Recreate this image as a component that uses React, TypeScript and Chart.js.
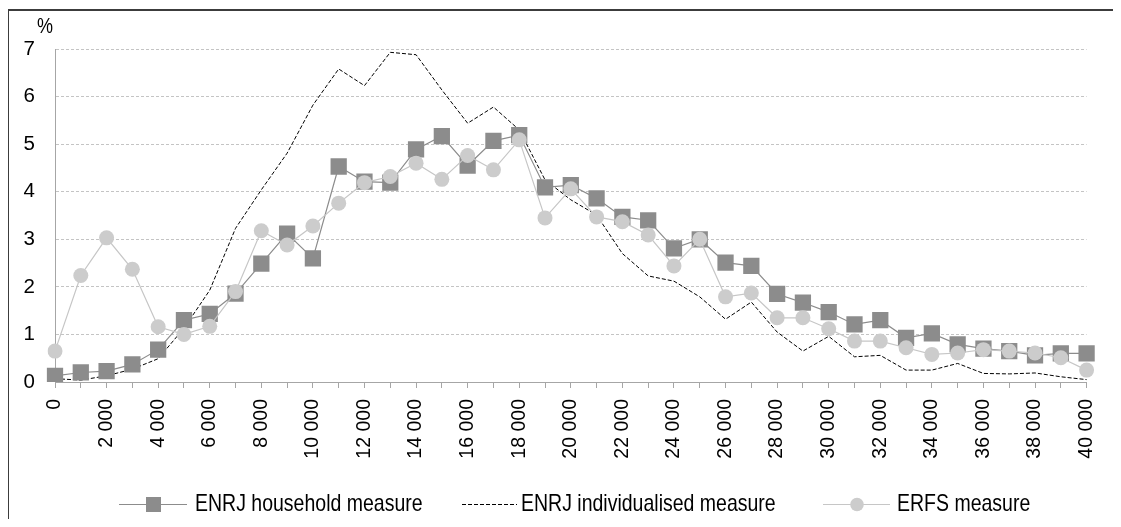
import React, { useEffect, useRef } from 'react';
import { Chart, registerables } from 'chart.js';

Chart.register(...registerables);

const incomeLevels = [
  0, 1000, 2000, 3000, 4000, 5000, 6000, 7000, 8000, 9000,
  10000, 11000, 12000, 13000, 14000, 15000, 16000, 17000, 18000, 19000,
  20000, 21000, 22000, 23000, 24000, 25000, 26000, 27000, 28000, 29000,
  30000, 31000, 32000, 33000, 34000, 35000, 36000, 37000, 38000, 39000, 40000,
];

const tickLabels = [
  '0', '', '2 000', '', '4 000', '', '6 000', '', '8 000', '',
  '10 000', '', '12 000', '', '14 000', '', '16 000', '', '18 000', '',
  '20 000', '', '22 000', '', '24 000', '', '26 000', '', '28 000', '',
  '30 000', '', '32 000', '', '34 000', '', '36 000', '', '38 000', '', '40 000',
];

const householdMeasure = [
  0.13, 0.2, 0.23, 0.37, 0.68, 1.3, 1.43, 1.86, 2.49, 3.12,
  2.6, 4.53, 4.21, 4.19, 4.89, 5.17, 4.55, 5.07, 5.19, 4.09,
  4.14, 3.86, 3.47, 3.4, 2.81, 3.0, 2.51, 2.44, 1.85, 1.67,
  1.47, 1.21, 1.3, 0.93, 1.02, 0.79, 0.7, 0.65, 0.56, 0.6, 0.6,
];

const individualisedMeasure = [
  0.07, 0.04, 0.13, 0.27, 0.49, 1.13, 1.93, 3.23, 4.04, 4.81,
  5.82, 6.58, 6.23, 6.93, 6.88, 6.14, 5.44, 5.78, 5.3, 4.25,
  3.83, 3.51, 2.7, 2.23, 2.12, 1.79, 1.32, 1.68, 1.05, 0.65,
  0.96, 0.53, 0.56, 0.25, 0.25, 0.39, 0.18, 0.17, 0.19, 0.11, 0.05,
];

const erfsMeasure = [
  0.65, 2.24, 3.03, 2.37, 1.16, 1.0, 1.17, 1.9, 3.18, 2.88,
  3.28, 3.76, 4.19, 4.32, 4.6, 4.26, 4.76, 4.46, 5.09, 3.45,
  4.06, 3.47, 3.37, 3.09, 2.44, 3.0, 1.79, 1.87, 1.35, 1.35,
  1.12, 0.86, 0.86, 0.72, 0.58, 0.61, 0.68, 0.65, 0.61, 0.51, 0.25,
];

const seriesNames = ['ENRJ household measure', 'ENRJ individualised measure', 'ERFS measure'];
const yUnit = '%';

const FONT = '"Liberation Sans", Arial, sans-serif';
const HOUSE_COLOR = '#8c8c8c';
const ERFS_COLOR = '#cccccc';
const ERFS_LINE = '#c6c6c6';

function stretchedText(ctx: CanvasRenderingContext2D, text: string, x: number, y: number, sy: number) {
  ctx.save();
  ctx.translate(x, y);
  ctx.scale(1, sy);
  ctx.fillText(text, 0, 0);
  ctx.restore();
}

const decorPlugin = {
  id: 'decor',
  afterDraw(chart: any) {
    const ctx = chart.ctx as CanvasRenderingContext2D;
    ctx.save();
    // frame (top and left only)
    ctx.fillStyle = '#3c3c3c';
    ctx.fillRect(7, 9, 1114, 2);
    ctx.fillRect(7, 9, 2, 518);

    // unit label
    ctx.fillStyle = '#000';
    ctx.font = `18px ${FONT}`;
    ctx.textAlign = 'center';
    ctx.textBaseline = 'middle';
    stretchedText(ctx, yUnit, 45, 27, 1.25);

    // legend
    const ly = 505;
    ctx.font = `19.5px ${FONT}`;
    ctx.textAlign = 'left';
    ctx.textBaseline = 'middle';

    ctx.strokeStyle = HOUSE_COLOR;
    ctx.lineWidth = 1;
    ctx.beginPath();
    ctx.moveTo(119, ly - 0.5);
    ctx.lineTo(187, ly - 0.5);
    ctx.stroke();
    ctx.fillStyle = HOUSE_COLOR;
    ctx.fillRect(146, ly - 8, 15, 15);
    ctx.fillStyle = '#000';
    stretchedText(ctx, seriesNames[0], 195, ly, 1.2);

    ctx.strokeStyle = '#000';
    ctx.setLineDash([4, 2]);
    ctx.beginPath();
    ctx.moveTo(462, ly - 0.5);
    ctx.lineTo(517, ly - 0.5);
    ctx.stroke();
    ctx.setLineDash([]);
    stretchedText(ctx, seriesNames[1], 521, ly, 1.2);

    ctx.strokeStyle = ERFS_LINE;
    ctx.beginPath();
    ctx.moveTo(823, ly - 0.5);
    ctx.lineTo(890, ly - 0.5);
    ctx.stroke();
    ctx.fillStyle = ERFS_COLOR;
    ctx.beginPath();
    ctx.arc(857, ly - 0.5, 6.8, 0, Math.PI * 2);
    ctx.fill();
    ctx.fillStyle = '#000';
    stretchedText(ctx, seriesNames[2], 897, ly, 1.2);
    ctx.restore();
  },
};

export default function App() {
  const canvasRef = useRef<HTMLCanvasElement | null>(null);

  useEffect(() => {
    if (!canvasRef.current) return;
    Chart.defaults.font.family = FONT;
    const chart = new Chart(canvasRef.current, {
      type: 'line',
      data: {
        labels: incomeLevels,
        datasets: [
          {
            label: seriesNames[0],
            data: householdMeasure,
            borderColor: HOUSE_COLOR,
            backgroundColor: HOUSE_COLOR,
            borderWidth: 1.2,
            pointStyle: 'rect',
            pointRadius: 11.5,
            pointBorderWidth: 0,
            pointBackgroundColor: HOUSE_COLOR,
            order: 1,
          },
          {
            label: seriesNames[1],
            data: individualisedMeasure,
            borderColor: '#000',
            borderWidth: 1,
            borderDash: [4, 2],
            pointRadius: 0,
            order: 2,
          },
          {
            label: seriesNames[2],
            data: erfsMeasure,
            borderColor: ERFS_LINE,
            backgroundColor: ERFS_COLOR,
            borderWidth: 1.2,
            pointStyle: 'circle',
            pointRadius: 7.5,
            pointBorderWidth: 0,
            pointBackgroundColor: ERFS_COLOR,
            order: 0,
          },
        ],
      },
      options: {
        responsive: false,
        animation: false,
        events: [],
        layout: { padding: { left: 0, top: 49, right: 26, bottom: 0 } },
        plugins: { legend: { display: false }, tooltip: { enabled: false } },
        scales: {
          x: {
            type: 'category',
            offset: false,
            afterFit: (scale: any) => {
              scale.height = 145;
            },
            grid: {
              display: true,
              drawOnChartArea: false,
              drawTicks: true,
              tickLength: 6,
              color: '#a6a6a6',
            },
            border: { display: true, color: '#a6a6a6', width: 1 },
            ticks: {
              autoSkip: false,
              maxRotation: 90,
              minRotation: 90,
              padding: 11,
              color: '#000',
              font: { size: 19.5, family: FONT },
              callback: (_v: any, i: number) => tickLabels[i],
            },
          },
          y: {
            min: 0,
            max: 7,
            afterFit: (scale: any) => {
              scale.width = 55;
            },
            grid: {
              drawTicks: false,
              color: (c: any) => (c.tick && c.tick.value === 0 ? 'rgba(0,0,0,0)' : '#c4c4c4'),
              lineWidth: 1,
            },
            border: { display: true, color: '#a6a6a6', width: 1, dash: [3, 2] },
            ticks: {
              stepSize: 1,
              padding: 20,
              color: '#000',
              font: { size: 20.5, family: FONT },
            },
          },
        },
      },
      plugins: [decorPlugin],
    });
    return () => chart.destroy();
  }, []);

  return (
    <div style={{ margin: -8, width: 1121, height: 527, position: 'relative' }}>
      <canvas ref={canvasRef} width={1121} height={527} style={{ display: 'block', width: 1121, height: 527 }} />
    </div>
  );
}
